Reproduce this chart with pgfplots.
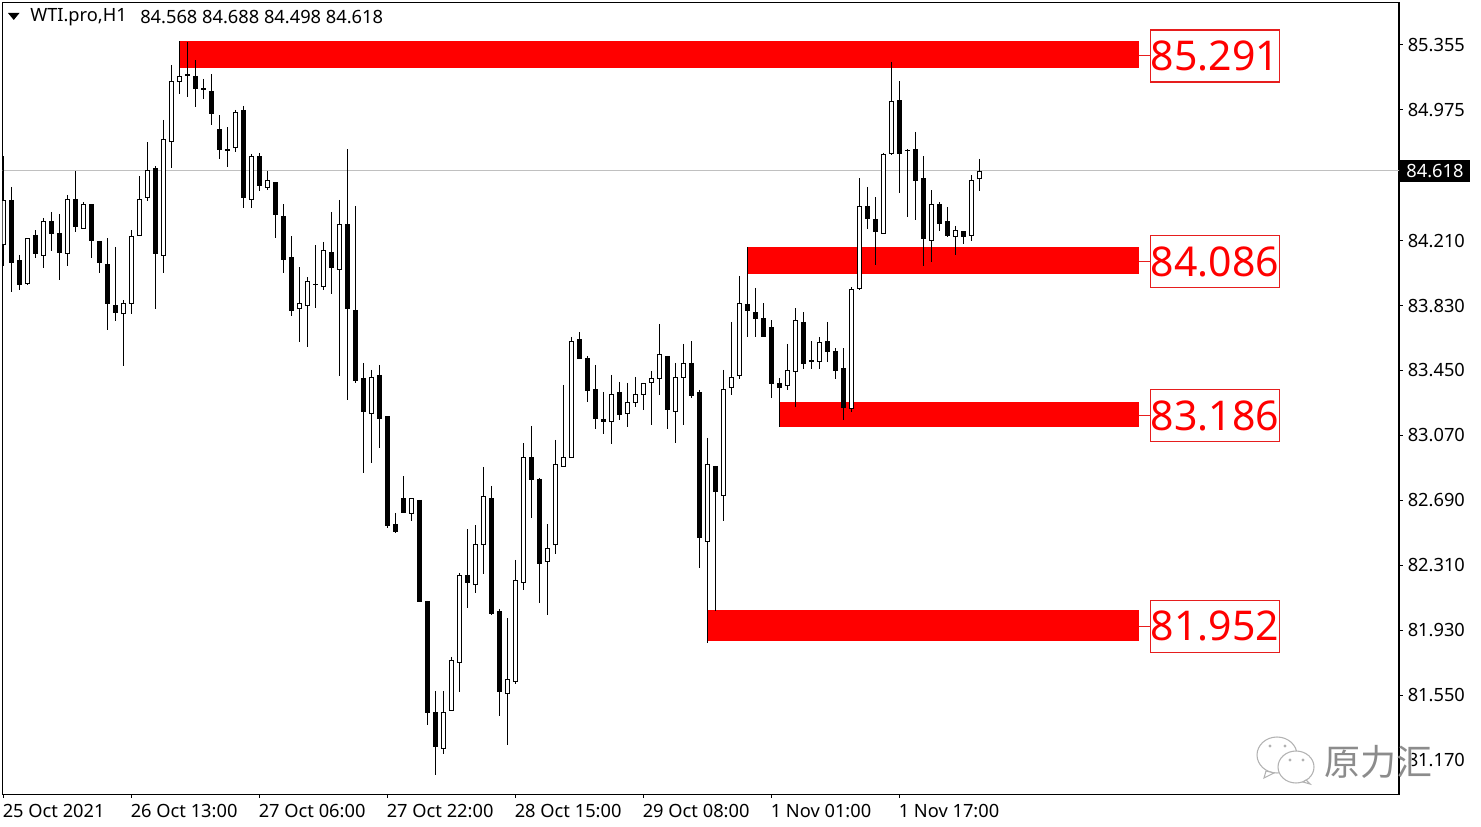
\documentclass[border=0pt]{standalone}
\usepackage{pgfplots}
\pgfplotsset{compat=1.18}
\usepackage{fontspec}
\setmainfont{Noto Sans}
\newfontfamily\cjk{Noto Sans CJK SC}
\definecolor{boxred}{RGB}{230,30,30}
\definecolor{pricegray}{RGB}{192,192,192}
\newlength\px
\setlength\px{0.75pt}
\newcommand\bull[5]{%
  \addplot[black,line width=1.2\px] coordinates {(#1,#3)(#1,#4)};
  \addplot[black,line width=5\px] coordinates {(#1,#2)(#1,#5)};
  \addplot[white,line width=2.6\px,shorten >=1.2\px,shorten <=1.2\px] coordinates {(#1,#2)(#1,#5)};
}
\newcommand\bear[5]{%
  \addplot[black,line width=1.2\px] coordinates {(#1,#3)(#1,#4)};
  \addplot[black,line width=5\px] coordinates {(#1,#2)(#1,#5)};
}
\newcommand\zone[4]{%
  \addplot[fill=red,draw=none] coordinates {(#1,#3)(141.91,#3)(141.91,#4)(#1,#4)} --cycle;
  \addplot[boxred,line width=1\px] coordinates {(141.91,#2)(143.35,#2)};
}
\begin{document}
\begin{tikzpicture}
\path[use as bounding box] (-2.5\px,-32.5\px) rectangle (1478.5\px,794.5\px);
\begin{axis}[
  at={(0,0)},anchor=south west,
  scale only axis,width=1396.5\px,height=792.2\px,
  xmin=-0.15,xmax=174.41,ymin=80.968,ymax=85.605,
  axis line style={black,line width=1.2\px},
  clip mode=individual,
  tick align=outside,major tick length=3.5\px,
  tick style={black,line width=1\px},
  xtick pos=lower,ytick pos=right,yticklabel pos=right,
  xtick={0,16,32,48,64,80,96,112},
  xticklabels={25 Oct 2021,26 Oct 13:00,27 Oct 06:00,27 Oct 22:00,28 Oct 15:00,29 Oct 08:00,1 Nov 01:00,1 Nov 17:00},
  ytick={85.355,84.975,84.21,83.83,83.45,83.07,82.69,82.31,81.93,81.55,81.17},
  yticklabels={85.355,84.975,84.210,83.830,83.450,83.070,82.690,82.310,81.930,81.550,81.170},
  ticklabel style={font=\fontsize{13.7}{15}\selectfont,black},
  xticklabel style={anchor=north west,inner xsep=0pt,inner ysep=3\px,xshift=-1.2\px,yshift=-3\px},
  yticklabel style={anchor=west,inner xsep=0pt,xshift=5\px},
]
\addplot[pricegray,line width=1.1\px] coordinates {(-1,84.618)(175,84.618)};
\zone{21.91}{85.291}{85.378}{85.220}
\zone{92.91}{84.086}{84.173}{84.012}
\zone{96.91}{83.186}{83.265}{83.119}
\zone{87.91}{81.952}{82.048}{81.866}
\bull{0}{84.184}{84.705}{84.061}{84.448}
\bear{1}{84.448}{84.524}{83.909}{84.079}
\bear{2}{84.096}{84.126}{83.921}{83.950}
\bull{3}{83.956}{84.225}{83.950}{84.225}
\bear{4}{84.243}{84.272}{84.108}{84.132}
\bull{5}{84.120}{84.343}{84.050}{84.325}
\bear{6}{84.325}{84.378}{84.149}{84.249}
\bear{7}{84.255}{84.366}{83.979}{84.137}
\bull{8}{84.132}{84.477}{84.061}{84.454}
\bear{9}{84.454}{84.618}{84.260}{84.290}
\bull{10}{84.278}{84.436}{84.278}{84.424}
\bear{11}{84.424}{84.424}{84.108}{84.208}
\bear{12}{84.208}{84.208}{84.020}{84.079}
\bear{13}{84.073}{84.225}{83.687}{83.839}
\bear{14}{83.833}{84.173}{83.739}{83.786}
\bull{15}{83.780}{83.862}{83.476}{83.844}
\bull{16}{83.839}{84.272}{83.780}{84.237}
\bull{17}{84.237}{84.588}{84.237}{84.454}
\bull{18}{84.460}{84.787}{84.442}{84.623}
\bear{19}{84.635}{84.647}{83.809}{84.132}
\bull{20}{84.120}{84.916}{84.020}{84.805}
\bull{21}{84.787}{85.238}{84.635}{85.144}
\bull{22}{85.138}{85.378}{85.068}{85.174}
\bear{23}{85.185}{85.372}{85.051}{85.174}
\bear{24}{85.174}{85.267}{84.992}{85.097}
\bear{25}{85.103}{85.156}{85.039}{85.091}
\bear{26}{85.086}{85.185}{84.887}{84.951}
\bear{27}{84.863}{84.945}{84.688}{84.740}
\bear{28}{84.746}{84.875}{84.641}{84.734}
\bull{29}{84.752}{84.975}{84.729}{84.963}
\bear{30}{84.975}{84.998}{84.401}{84.460}
\bull{31}{84.448}{84.717}{84.401}{84.705}
\bear{32}{84.705}{84.723}{84.500}{84.530}
\bull{33}{84.518}{84.618}{84.506}{84.565}
\bear{34}{84.553}{84.553}{84.225}{84.360}
\bear{35}{84.354}{84.424}{84.020}{84.096}
\bear{36}{84.114}{84.237}{83.769}{83.798}
\bull{37}{83.809}{84.055}{83.617}{83.844}
\bull{38}{83.827}{83.997}{83.587}{83.974}
\bear{39}{83.956}{84.184}{83.815}{83.950}
\bull{40}{83.938}{84.202}{83.921}{84.155}
\bear{41}{84.143}{84.378}{83.897}{84.050}
\bull{42}{84.038}{84.448}{83.417}{84.307}
\bear{43}{84.307}{84.746}{83.277}{83.809}
\bear{44}{83.804}{84.413}{83.377}{83.388}
\bear{45}{83.406}{83.494}{82.850}{83.207}
\bull{46}{83.195}{83.453}{82.908}{83.412}
\bear{47}{83.424}{83.482}{82.996}{83.166}
\bear{48}{83.183}{83.183}{82.528}{82.540}
\bear{49}{82.551}{82.616}{82.499}{82.505}
\bear{50}{82.703}{82.832}{82.616}{82.616}
\bull{51}{82.610}{82.703}{82.569}{82.703}
\bear{52}{82.692}{82.692}{82.095}{82.095}
\bear{53}{82.101}{82.101}{81.375}{81.445}
\bear{54}{81.451}{81.574}{81.082}{81.246}
\bull{55}{81.235}{81.574}{81.205}{81.451}
\bull{56}{81.457}{81.773}{81.457}{81.755}
\bull{57}{81.738}{82.264}{81.568}{82.253}
\bear{58}{82.253}{82.522}{82.060}{82.206}
\bull{59}{82.194}{82.545}{82.148}{82.434}
\bull{60}{82.428}{82.885}{82.259}{82.715}
\bear{61}{82.703}{82.774}{82.019}{82.025}
\bear{62}{82.042}{82.054}{81.428}{81.568}
\bull{63}{81.556}{82.001}{81.258}{81.644}
\bull{64}{81.626}{82.341}{81.615}{82.224}
\bull{65}{82.206}{83.025}{82.165}{82.943}
\bear{66}{82.943}{83.125}{82.587}{82.809}
\bear{67}{82.815}{82.820}{82.089}{82.317}
\bull{68}{82.329}{82.551}{82.019}{82.411}
\bull{69}{82.428}{83.043}{82.376}{82.903}
\bull{70}{82.885}{83.365}{82.885}{82.943}
\bull{71}{82.938}{83.646}{82.938}{83.622}
\bear{72}{83.634}{83.675}{83.517}{83.517}
\bear{73}{83.523}{83.535}{83.265}{83.330}
\bear{74}{83.341}{83.482}{83.107}{83.166}
\bear{75}{83.166}{83.324}{83.078}{83.148}
\bull{76}{83.148}{83.424}{83.019}{83.312}
\bear{77}{83.324}{83.383}{83.160}{83.189}
\bull{78}{83.195}{83.377}{83.119}{83.265}
\bull{79}{83.259}{83.412}{83.236}{83.312}
\bull{80}{83.306}{83.377}{83.218}{83.377}
\bull{81}{83.377}{83.447}{83.131}{83.406}
\bull{82}{83.400}{83.722}{83.306}{83.546}
\bear{83}{83.535}{83.535}{83.107}{83.218}
\bull{84}{83.207}{83.494}{83.025}{83.412}
\bull{85}{83.406}{83.605}{83.131}{83.494}
\bear{86}{83.494}{83.622}{83.289}{83.301}
\bear{87}{83.324}{83.336}{82.294}{82.469}
\bull{88}{82.446}{83.055}{81.855}{82.903}
\bear{89}{82.891}{82.891}{82.042}{82.739}
\bull{90}{82.715}{83.453}{82.569}{83.341}
\bull{91}{83.347}{83.734}{83.306}{83.412}
\bull{92}{83.417}{84.003}{83.400}{83.844}
\bear{93}{83.839}{84.173}{83.646}{83.798}
\bear{94}{83.792}{83.933}{83.646}{83.751}
\bear{95}{83.757}{83.844}{83.646}{83.646}
\bear{96}{83.704}{83.745}{83.289}{83.371}
\bear{97}{83.377}{83.406}{83.119}{83.347}
\bull{98}{83.359}{83.605}{83.336}{83.453}
\bull{99}{83.441}{83.815}{83.236}{83.745}
\bear{100}{83.734}{83.792}{83.459}{83.488}
\bear{101}{83.511}{83.622}{83.459}{83.500}
\bull{102}{83.500}{83.646}{83.459}{83.617}
\bear{103}{83.622}{83.734}{83.500}{83.558}
\bear{104}{83.564}{83.581}{83.400}{83.447}
\bear{105}{83.464}{83.581}{83.160}{83.230}
\bull{106}{83.224}{83.938}{83.207}{83.927}
\bull{107}{83.927}{84.576}{83.921}{84.413}
\bear{108}{84.413}{84.524}{84.278}{84.337}
\bear{109}{84.337}{84.465}{84.067}{84.260}
\bull{110}{84.249}{84.723}{84.249}{84.717}
\bull{111}{84.717}{85.256}{84.711}{85.027}
\bear{112}{85.033}{85.144}{84.489}{84.717}
\bear{113}{84.740}{84.746}{84.348}{84.734}
\bear{114}{84.746}{84.846}{84.331}{84.559}
\bear{115}{84.576}{84.705}{84.061}{84.219}
\bull{116}{84.208}{84.506}{84.085}{84.424}
\bear{117}{84.424}{84.436}{84.266}{84.307}
\bear{118}{84.325}{84.407}{84.231}{84.237}
\bull{119}{84.231}{84.296}{84.126}{84.272}
\bear{120}{84.266}{84.266}{84.190}{84.231}
\bull{121}{84.237}{84.594}{84.208}{84.565}
\bull{122}{84.568}{84.688}{84.498}{84.618}
\def\lab#1{\node[draw=boxred,line width=1.2\px,fill=white,text=red,inner sep=0pt,minimum width=129\px,minimum height=52\px,font=\fontsize{30.75}{32}\selectfont] at (axis cs:151.41,#1) {#1};}
\lab{85.291}
\lab{84.086}
\lab{83.186}
\lab{81.952}
\node[fill=black,text=white,inner sep=0pt,minimum width=70\px,minimum height=22\px,font=\fontsize{13.7}{15}\selectfont] at (axis cs:178.9,84.618) {84.618};
\end{axis}
\begin{scope}[x=0.75pt,y=-0.75pt,shift={(-2.5,-794.5)}]
\fill[black] (8,13) -- (19.5,13) -- (13.75,20) -- cycle;
\node[anchor=west,inner sep=0pt,font=\fontsize{13.7}{15}\selectfont] at (30,17) {WTI.pro,H1};
\node[anchor=west,inner sep=0pt,font=\fontsize{13.7}{15}\selectfont] at (140,17) {84.568 84.688 84.498 84.618};
% watermark
\begin{scope}[draw=black!30,line width=0.8pt,fill=white]
\filldraw (1277,755) ellipse (20 and 18);
\filldraw (1266,771) -- (1264,778) -- (1274,773) -- cycle;
\filldraw (1296,767) ellipse (18 and 16);
\filldraw (1306,780) -- (1310,784) -- (1303,782) -- cycle;
\fill[black!30] (1270,746) circle (1.6) (1285,746) circle (1.6) (1290,760) circle (1.6) (1303,760) circle (1.6);
\end{scope}
\fill[white,opacity=0.7] (1400,752) rectangle (1412,772);
\node[inner sep=0pt,text=black!45,font=\cjk\fontsize{27}{30}\selectfont] at (1378,762) {原力汇};
\end{scope}
\end{tikzpicture}
\end{document}
